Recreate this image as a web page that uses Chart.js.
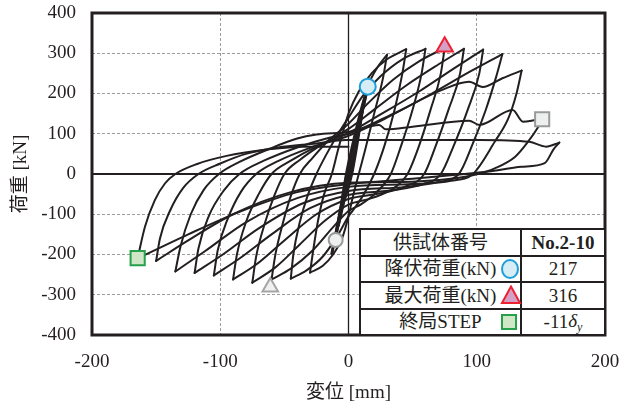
<!DOCTYPE html>
<html>
<head>
<meta charset="utf-8">
<script src="https://cdn.jsdelivr.net/npm/chart.js@4.4.1/dist/chart.umd.min.js"></script>
<style>
  html, body { margin: 0; padding: 0; background: #fff; }
  #wrap { position: relative; width: 636px; height: 406px; }
  #info {
    position: absolute; left: 359px; top: 228px; width: 247px; height: 108px;
    box-sizing: border-box; padding: 2px; background: #231f20;
    display: grid; grid-template-columns: 159px 82px; grid-template-rows: repeat(4, 24.5px); gap: 2px;
    font-family: "Liberation Serif", "Noto Sans CJK JP", serif; font-size: 19px; color: #231f20;
  }
  #info > div { background: #fff; position: relative; display: flex; align-items: center; justify-content: center; white-space: nowrap; line-height: 1; }
  .mk { position: absolute; top: 50%; transform: translateY(-50%); }
  sub { font-size: 12px; vertical-align: -4px; }
</style>
</head>
<body>
<div id="wrap">
  <canvas id="chart" width="636" height="406"></canvas>
  <div id="info">
    <div>供試体番号</div><div><b>No.2-10</b></div>
    <div>降伏荷重(kN)<svg class="mk" style="left:139px" width="20" height="22"><ellipse cx="10" cy="11" rx="8" ry="9" fill="#d7edf5" stroke="#1e9fd9" stroke-width="2"/></svg></div><div id="vYield"></div>
    <div>最大荷重(kN)<svg class="mk" style="left:139px" width="22" height="20"><polygon points="11,1.5 20,18 2,18" fill="#d5a0c6" stroke="#ec2233" stroke-width="2" stroke-linejoin="miter"/></svg></div><div id="vMax"></div>
    <div>終局STEP<svg class="mk" style="left:139px" width="18" height="18"><rect x="2" y="2" width="14" height="14" fill="#cfe6c7" stroke="#26a04b" stroke-width="2"/></svg></div><div>-11<i>δ<sub>y</sub></i></div>
  </div>
</div>
<script>
// Displacement [mm] / load [kN] pairs, one array per loading cycle
const elasticLoops = [[0,0],[5,70],[0.5,0],[-4,-62],[0,0],[10,145],[1,0],[-8,-128],[-0.5,0],[6,92],[12,180],[2.5,0],[-6,-95],[-11,-172],[-1,0]];
const loop01 = [[-1,0],[8,118],[15,217],[9,130],[2,0],[-5,-75],[-13,-198],[-8,-118],[-2,0]];
const loop02 = [[-2,0],[4,88],[10,165],[15,218],[22,262],[30,296],[27,240],[20,150],[13,60],[8,0],[3,-62],[0,-105],[-5,-160],[-12,-200],[-20,-228],[-30,-245],[-28,-200],[-24,-120],[-19,-50],[-13,0]];
const loop03 = [[-13,0],[-8,62],[0,150],[8,205],[18,250],[30,285],[45,310],[42,250],[36,160],[28,70],[20,0],[12,-50],[4,-88],[0,-105],[-8,-150],[-20,-205],[-33,-240],[-45,-260],[-43,-200],[-38,-120],[-32,-55],[-25,0]];
const loop04 = [[-25,0],[-17,50],[-8,100],[0,140],[12,198],[25,243],[42,285],[60,311],[57,250],[50,160],[41,70],[33,0],[22,-45],[10,-75],[0,-92],[-12,-132],[-28,-190],[-45,-235],[-60,-262],[-57,-200],[-51,-120],[-45,-55],[-38,0]];
const loop05 = [[-38,0],[-28,40],[-15,85],[0,125],[15,175],[35,235],[55,280],[75,313],[72,250],[64,160],[55,70],[46,0],[34,-38],[18,-60],[0,-76],[-18,-115],[-38,-175],[-57,-232],[-75,-270],[-72,-205],[-65,-120],[-58,-55],[-50,0]];
const loop06 = [[-50,0],[-38,35],[-20,75],[0,112],[20,160],[45,220],[70,272],[90,311],[87,250],[78,160],[68,70],[59,0],[45,-30],[25,-48],[0,-62],[-25,-100],[-50,-165],[-72,-225],[-90,-262],[-87,-200],[-80,-120],[-70,-50],[-60,0]];
const loop07 = [[-60,0],[-45,33],[-25,68],[0,102],[25,148],[55,205],[82,262],[105,309],[102,250],[93,160],[82,70],[72,0],[58,-25],[35,-40],[0,-52],[-30,-85],[-60,-150],[-85,-210],[-105,-252],[-102,-190],[-94,-110],[-84,-45],[-72,0]];
const loop08 = [[-72,0],[-55,32],[-30,65],[0,95],[30,140],[65,200],[95,255],[120,298],[115,240],[107,159],[97,76],[86,0],[70,-20],[45,-32],[0,-42],[-35,-72],[-70,-135],[-98,-200],[-120,-246],[-117,-185],[-109,-105],[-97,-40],[-85,0]];
const loop09 = [[-85,0],[-66,33],[-40,66],[-15,90],[0,100],[35,150],[73,209],[94,229],[104.6,216],[120,238],[135,257],[131,200],[124.6,138],[114,80],[97,0],[80,-17],[50,-25],[0,-32],[-40,-60],[-80,-120],[-112,-192],[-135,-242],[-131,-180],[-123,-100],[-113,-40],[-101,0]];
const loop10 = [[-101,0],[-85,30],[-62,62],[-40,88],[-25,98],[0.6,105],[24,122],[29,111],[50,117.6],[94,132.6],[102,122],[128,159],[136,130],[146,134],[151,136],[148,117.6],[139,76],[130,43],[114,14],[101,0],[85,-10],[50,-19],[0,-22],[-45,-45],[-90,-100],[-125,-165],[-150,-216],[-147,-160],[-139,-90],[-129,-35],[-117,0]];
const loop11 = [[-117,0],[-100,26],[-80,50],[-55,66],[-25,76],[-2,84.5],[52,84.5],[102,84.5],[141,80],[154,68],[164.4,78],[160,62],[153,27],[135,18],[109,6],[84,-2],[50,-12],[0,-25],[-40,-45],[-85,-94],[-125,-150],[-158.7,-201],[-164.4,-209]];
const finalUnload = [[-164.4,-209],[-158.7,-131],[-151,-65],[-143,-23],[-135,0],[-118,25],[-95,45],[-65,60],[-36,68],[0,68]];

// Marked points
const yieldPos = [15, 217];        // 降伏荷重
const maxPos = [75, 316];          // 最大荷重
const yieldNeg = [-10, -164];
const maxNeg = [-61, -281];
const stepPos = [151, 136];
const ultimateStep = [-164.4, -209]; // 終局STEP -11δy

// Axis ticks
const xTicks = [-200, -100, 0, 100, 200];
const yTicks = [-400, -300, -200, -100, 0, 100, 200, 300, 400];

document.getElementById('vYield').textContent = yieldPos[1];
document.getElementById('vMax').textContent = maxPos[1];

// Join all cycles into one load path, then cut it wherever displacement reverses
const loops = [elasticLoops, loop01, loop02, loop03, loop04, loop05, loop06, loop07, loop08, loop09, loop10, loop11, finalUnload];
const path = [];
loops.forEach(l => l.forEach(p => {
  const last = path[path.length - 1];
  if (!last || last[0] !== p[0] || last[1] !== p[1]) path.push(p);
}));
const branches = [];
let cur = [path[0]], dir = 0;
for (let i = 1; i < path.length; i++) {
  const d = Math.sign(path[i][0] - path[i - 1][0]);
  if (dir !== 0 && d !== 0 && d !== dir) { branches.push(cur); cur = [path[i - 1]]; }
  if (d !== 0) dir = d;
  cur.push(path[i]);
}
branches.push(cur);

const ink = '#231f20';
const curveSets = branches.map(b => ({
  type: 'scatter',
  data: b.map(([x, y]) => ({ x, y })),
  showLine: true,
  borderColor: ink,
  // the small pre-yield cycles overlap into one heavy stroke
  borderWidth: b.every(([x]) => Math.abs(x) <= 15) ? 3 : 2,
  borderCapStyle: 'round',
  borderJoinStyle: 'round',
  pointRadius: 0,
  cubicInterpolationMode: 'monotone',
  order: 1
}));

function marker(pt, style, r, fill, stroke) {
  return {
    type: 'scatter', data: [{ x: pt[0], y: pt[1] }], pointStyle: style, pointRadius: r,
    backgroundColor: fill, borderColor: stroke, borderWidth: 2, order: 0, clip: false
  };
}
const markerSets = [
  marker(yieldPos, 'circle', 8, '#d7edf5', '#1e9fd9'),
  marker(maxPos, 'triangle', 9.5, '#d5a0c6', '#ec2233'),
  marker(yieldNeg, 'circle', 7, '#eef0f0', '#9a9a9a'),
  marker(maxNeg, 'triangle', 9, '#f0f0f0', '#a5a5a5'),
  marker(stepPos, 'rect', 10, '#eef0f0', '#9a9a9a'),
  marker(ultimateStep, 'rect', 10, '#cfe6c7', '#26a04b')
];

const frame = {
  id: 'frame',
  beforeDatasetsDraw(chart) {
    const { ctx, chartArea: a, scales: { x, y } } = chart;
    ctx.save();
    ctx.strokeStyle = ink;
    ctx.lineWidth = 2;
    const y0 = y.getPixelForValue(0);
    ctx.beginPath(); ctx.moveTo(a.left, y0); ctx.lineTo(a.right, y0); ctx.stroke();
    ctx.lineWidth = 1.3;
    const x0 = x.getPixelForValue(0);
    ctx.beginPath(); ctx.moveTo(x0, a.top); ctx.lineTo(x0, a.bottom); ctx.stroke();
    ctx.restore();
  },
  afterDatasetsDraw(chart) {
    const { ctx, chartArea: a } = chart;
    ctx.save();
    ctx.strokeStyle = ink;
    ctx.lineWidth = 3;
    ctx.strokeRect(a.left, a.top, a.right - a.left, a.bottom - a.top);
    ctx.restore();
  }
};

const fontFamily = '"Liberation Serif", "Noto Sans CJK JP", serif';
new Chart(document.getElementById('chart'), {
  type: 'scatter',
  data: { datasets: [...markerSets, ...curveSets] },
  options: {
    responsive: false,
    animation: false,
    events: [],
    layout: { padding: { left: 0, right: 31, top: 13, bottom: 0 } },
    plugins: { legend: { display: false }, tooltip: { enabled: false } },
    scales: {
      x: {
        type: 'linear', min: xTicks[0], max: xTicks[xTicks.length - 1],
        afterBuildTicks: s => { s.ticks = xTicks.map(v => ({ value: v })); },
        afterFit: s => { s.height = 71; s.paddingLeft = 0; s.paddingRight = 0; },
        ticks: { padding: 16, color: ink, font: { family: fontFamily, size: 19 } },
        grid: { color: '#9c9c9c', lineWidth: 1, drawTicks: false },
        border: { display: false, dash: [3, 2] },
        title: { display: true, text: '変位 [mm]', color: ink, font: { family: fontFamily, size: 19 }, padding: { top: 0, bottom: 2 } }
      },
      y: {
        type: 'linear', min: yTicks[0], max: yTicks[yTicks.length - 1],
        afterBuildTicks: s => { s.ticks = yTicks.map(v => ({ value: v })); },
        afterFit: s => { s.width = 92; s.paddingTop = 0; s.paddingBottom = 0; },
        ticks: { padding: 16, color: ink, font: { family: fontFamily, size: 19 } },
        grid: { color: '#9c9c9c', lineWidth: 1, drawTicks: false },
        border: { display: false, dash: [3, 2] },
        title: { display: true, text: '荷重 [kN]', color: ink, font: { family: fontFamily, size: 19 }, padding: { top: 10, bottom: 0 } }
      }
    }
  },
  plugins: [frame]
});
</script>
</body>
</html>
